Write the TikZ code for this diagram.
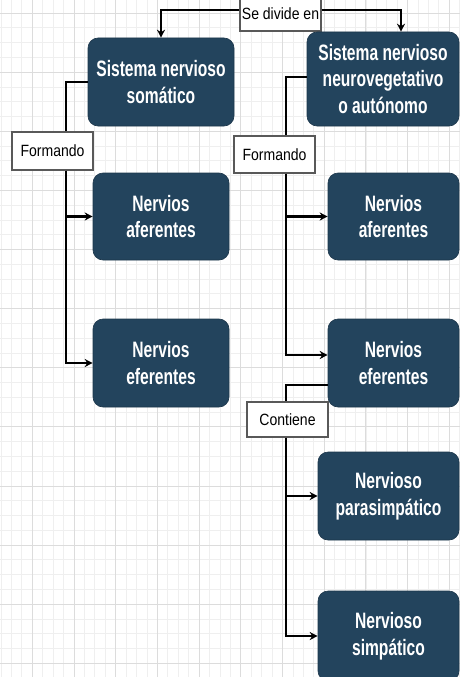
\documentclass[tikz,border=0pt]{standalone}
\usepackage{fontspec}
\setmainfont{Liberation Sans}
\newfontfamily\boxfnt[FakeStretch=0.70]{Liberation Sans}
\newfontfamily\labfnt[FakeStretch=0.86]{Liberation Sans}
\usetikzlibrary{arrows.meta}
\definecolor{boxblue}{HTML}{23445D}
\definecolor{gridminor}{HTML}{EFEFEF}
\definecolor{gridmajor}{HTML}{DCDCDC}
\tikzset{
  bluebox/.style={draw=boxblue!80!black, line width=0.6pt, fill=boxblue, rounded corners=10pt,
    text=white, align=center, inner sep=0pt,
    font=\boxfnt\bfseries\fontsize{22.3}{26.5}\selectfont},
  labbox/.style={draw=black!65, line width=1.4pt, fill=white, inner sep=0pt,
    font=\labfnt\fontsize{16.3}{18}\selectfont},
  conn/.style={line width=2.2pt, draw=black},
  arr/.style={conn, -{Stealth[length=8pt,width=8pt]}}
}
\begin{document}
\begin{tikzpicture}[x=1pt,y=-1pt]
\clip (0,0) rectangle (460,677);
\fill[white] (0,0) rectangle (460,677);
% grid
\foreach \i in {0,...,45} {
  \draw[gridminor, line width=0.8pt] ({-9.4+\i*10.425},0) -- ({-9.4+\i*10.425},677);
}
\foreach \j in {-1,...,46} {
  \draw[gridminor, line width=0.8pt] (0,{13+\j*14.78}) -- (460,{13+\j*14.78});
}
\foreach \i in {0,...,12} {
  \draw[gridmajor, line width=0.9pt] ({-9.4+\i*41.7},0) -- ({-9.4+\i*41.7},677);
}
\foreach \j in {0,...,12} {
  \draw[gridmajor, line width=0.9pt] (0,{13+\j*59.12}) -- (460,{13+\j*59.12});
}
% nodes
\node[labbox, minimum width=81pt, minimum height=35pt] (sd) at (280.5,13.5) {Se divide en};
\node[bluebox, minimum width=146pt, minimum height=88pt] (sns) at (161,82) {Sistema nervioso\\som\'atico};
\node[bluebox, minimum width=152pt, minimum height=94pt] (snv) at (383,79) {Sistema nervioso\\neurovegetativo\\o aut\'onomo};
\node[labbox, minimum width=81pt, minimum height=38pt] (f1) at (52.5,151) {Formando};
\node[labbox, minimum width=81pt, minimum height=37pt] (f2) at (274.5,154.5) {Formando};
\node[bluebox, minimum width=136pt, minimum height=87pt] (la) at (161,216.5) {Nervios\\aferentes};
\node[bluebox, minimum width=136pt, minimum height=88pt] (le) at (161,363) {Nervios\\eferentes};
\node[bluebox, minimum width=131pt, minimum height=87pt] (ra) at (393.5,216.5) {Nervios\\aferentes};
\node[bluebox, minimum width=131pt, minimum height=88pt] (re) at (393.5,363) {Nervios\\eferentes};
\node[labbox, minimum width=81pt, minimum height=35pt] (ct) at (287.5,419.5) {Contiene};
\node[bluebox, minimum width=141pt, minimum height=88pt] (ps) at (388.5,496) {Nervioso\\parasimp\'atico};
\node[bluebox, minimum width=141pt, minimum height=90pt] (sp) at (388.5,636) {Nervioso\\simp\'atico};
% connectors
\draw[arr] ([yshift=3.5pt]sd.west) -| (sns.north);
\draw[arr] ([yshift=3.5pt]sd.east) -| ([xshift=18pt]snv.north);
\draw[conn] (sns.west) -| ([xshift=13.5pt]f1.north);
\draw[arr] ([xshift=13.5pt]f1.south) |- (la.west);
\draw[arr] ([xshift=13.5pt]f1.south) |- (le.west);
\draw[conn] ([yshift=2pt]snv.west) -| ([xshift=11.5pt]f2.north);
\draw[arr] ([xshift=11.5pt]f2.south) |- (ra.west);
\draw[arr] ([xshift=11.5pt]f2.south) |- ([yshift=8pt]re.west);
\draw[conn] ([yshift=-22pt]re.west) -| ([xshift=-1.5pt]ct.north);
\draw[arr] ([xshift=-1.5pt]ct.south) |- (ps.west);
\draw[arr] ([xshift=-1.5pt]ct.south) |- (sp.west);
\end{tikzpicture}
\end{document}
